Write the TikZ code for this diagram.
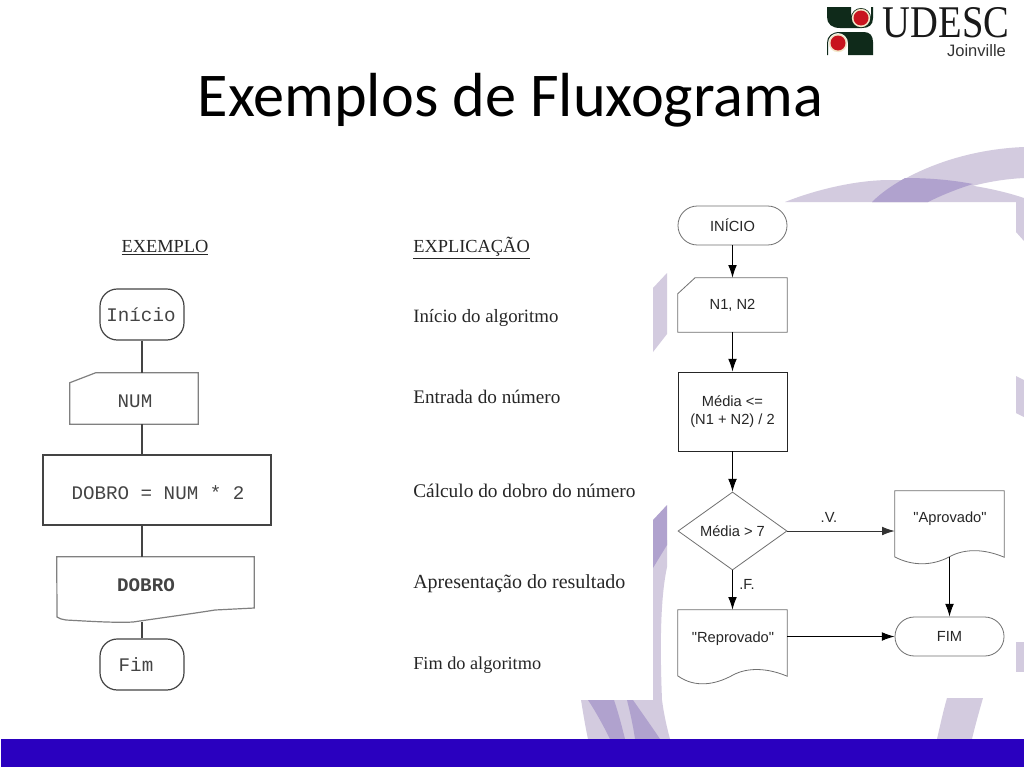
\documentclass[tikz,border=0pt]{standalone}
\usepackage{fontspec}
\setmainfont{Liberation Serif}
\newfontfamily\titlefont{Carlito}
\newfontfamily\monof{Liberation Mono}
\newfontfamily\sansf{Liberation Sans}
\usetikzlibrary{arrows.meta,shapes.geometric}
\definecolor{swlight}{HTML}{D3CBDF}
\definecolor{swdark}{HTML}{B0A2CE}
\definecolor{bandblue}{HTML}{2A00BF}
\definecolor{logogreen}{HTML}{0F2A1A}
\definecolor{logored}{HTML}{C8141E}
\definecolor{logocream}{HTML}{F2E6C8}
\definecolor{scan}{HTML}{444444}
\definecolor{thin}{HTML}{707070}
\tikzset{
  x=0.75pt,y=-0.75pt,
  shapebox/.style={rectangle,inner sep=0pt,minimum width=#1},
  scanbox/.style={shapebox=#1,draw=scan,line width=0.9pt},
  scanline/.style={draw=scan,line width=0.9pt},
  scanlight/.style={draw=gray,line width=0.9pt},
  monotext/.style={font=\monof\fontsize{14.4}{16}\selectfont,text=scan,inner sep=0pt},
  notetext/.style={font=\fontsize{#1}{16}\selectfont,text=black!85,anchor=west,inner sep=0pt},
  headtext/.style={font=\fontsize{13.8}{16}\selectfont,text=black!85,inner sep=0pt},
  sanstext/.style={font=\sansf\fontsize{11}{13.5}\selectfont,text=black!85,align=center,inner sep=0pt},
  thinshape/.style={draw=thin,line width=0.6pt},
  flowarrow/.style={draw=black,line width=0.7pt,-{Latex[length=9.5pt,width=6.5pt]}},
}
\begin{document}
\begin{tikzpicture}
\useasboundingbox (0,0) rectangle (1024,768);
\fill[white] (0,0) rectangle (1024,768);
% --- background swooshes
\fill[swlight] (785,202) .. controls (820,188) and (860,180) .. (890,180) .. controls (940,180) and (985,185) .. (1024,198) -- (1024,202) -- cycle;
\fill[swlight] (872,202) .. controls (895,180) and (950,150) .. (1024,147) -- (1024,178) .. controls (985,180) and (955,190) .. (928,202) -- cycle;
\fill[swdark] (872,202) .. controls (882,192) and (893,185) .. (905,178) .. controls (930,178) and (952,180) .. (973,184) .. controls (957,189) and (942,195) .. (928,202) -- cycle;
\fill[swlight] (1016,202) -- (1024,202) -- (1024,241) -- (1016,232) -- cycle;
\fill[swlight] (1016,376) -- (1024,380) -- (1024,417) -- (1016,413) -- cycle;
\fill[swlight] (1016,642) rectangle (1024,672);
\fill[swlight] (653,288) -- (667,273) -- (667,334) -- (653,352) -- cycle;
\fill[swlight] (653,560) -- (667,540) -- (667,567) .. controls (660,600) and (660,650) .. (662,700) .. controls (664,715) and (667,728) .. (670,739) -- (588,739) .. controls (585,725) and (583,712) .. (581,700) -- (653,700) -- cycle;
\fill[swdark] (653,520) -- (667,505) -- (667,545) -- (653,568) -- cycle;
\fill[swdark] (588,700) -- (614,700) .. controls (619,715) and (622,727) .. (625,739) -- (610,739) .. controls (603,725) and (596,712) .. (588,700) -- cycle;
\fill[swdark] (627,700) -- (633,700) .. controls (642,713) and (652,727) .. (660,739) -- (635,739) .. controls (633,725) and (630,712) .. (627,700) -- cycle;
\fill[swlight] (947,698) -- (983,698) .. controls (979,712) and (975,726) .. (972,739) -- (937,739) .. controls (940,726) and (943,712) .. (947,698) -- cycle;
\fill[bandblue] (1,739) rectangle (1024,767);
% --- title
\node[font=\titlefont\fontsize{46.7}{50}\selectfont,inner sep=0pt] (title) at (510.5,100.5) {Exemplos de Fluxograma};
% --- logo
\fill[logogreen] (827,7) -- (851,7) -- (851,18) arc[start angle=180,end angle=360,radius=10] -- (871,7) -- (873,7) -- (873,18) .. controls (873,25) and (869,28) .. (862,28) -- (840,28) .. controls (832,28) and (827,24) .. (827,17) -- cycle;
\fill[logogreen] (840,32) -- (864,32) .. controls (870,32) and (873,36) .. (873,42) -- (873,55) -- (848,55) -- (848,43) arc[start angle=360,end angle=180,radius=10] -- (828,55) -- (827,55) -- (827,43) .. controls (827,36) and (832,32) .. (840,32) -- cycle;
\fill[logocream] (861,18) circle[radius=9.2];
\fill[logocream] (838,43) circle[radius=9.2];
\fill[logored] (861,18) circle[radius=7.5];
\fill[logored] (838,43) circle[radius=7.5];
\node[font=\fontsize{34}{36}\selectfont,text=black!90,xscale=.85,inner sep=0pt] (udesc) at (946,22.5) {UDESC};
\node[font=\sansf\fontsize{12.4}{14}\selectfont,text=black!80,inner sep=0pt] (joinville) at (976.5,51) {Joinville};
% --- left flowchart
\node[headtext] (hExemplo) at (165,248) {\underline{EXEMPLO}};
\node[scanbox=63pt,minimum height=38.25pt,rounded corners=13pt] (lInicio) at (142,314.5) {};
\node[monotext] (tInicio) at (141,315) {Início};
\node[shapebox=96pt,minimum height=38.25pt] (lNum) at (134,398.5) {};
\draw[scanlight] ([yshift=-7.5pt]lNum.north west) -- ([xshift=19.5pt]lNum.north west) -- (lNum.north east) -- (lNum.south east) -- (lNum.south west) -- cycle;
\node[monotext] (tNum) at (135,401) {NUM};
\node[scanbox=171pt,minimum height=52.5pt] (lCalc) at (157,490) {};
\node[monotext] (tCalc) at (158,493) {DOBRO = NUM * 2};
\node[shapebox=147.75pt,minimum height=47.25pt] (lOut) at (155.5,588.5) {};
\draw[scanlight] (lOut.north west) -- (lOut.north east) -- ([yshift=1.5pt]lOut.east |- 0,610) -- (215,610) .. controls (190,614) and (160,618) .. (133,622) .. controls (115,623) and (85,621) .. (66,620) .. controls (62,619) and (59,619) .. (57,617) -- cycle;
\node[monotext,font=\monof\bfseries\fontsize{14.4}{16}\selectfont] (tOut) at (146,585) {DOBRO};
\node[scanbox=63pt,minimum height=38.25pt,rounded corners=13pt] (lFim) at (142,664.5) {};
\node[monotext] (tFim) at (136,665) {Fim};
\draw[scanline] (lInicio.south) -- (lInicio.south |- lNum.north);
\draw[scanline] (lInicio.south |- lNum.south) -- (lInicio.south |- lCalc.north);
\draw[scanline] (lInicio.south |- lCalc.south) -- (lInicio.south |- lOut.north);
\draw[scanline] (lInicio.south |- 0,622) -- (lFim.north);
% --- explanations
\node[headtext,anchor=west] (hExplica) at (413,248) {\underline{EXPLICAÇÃO}};
\node[notetext=14.1] (n1) at (413,318) {Início do algoritmo};
\node[notetext=14.4] (n2) at (413,397) {Entrada do número};
\node[notetext=14.5] (n3) at (413,491) {Cálculo do dobro do número};
\node[notetext=15] (n4) at (413,584) {Apresentação do resultado};
\node[notetext=13.7] (n5) at (413,665) {Fim do algoritmo};
% --- right flowchart
\node[thinshape,shapebox=81.75pt,minimum height=29.25pt,rounded corners=14.5pt,sanstext] (rIni) at (732.5,225.5) {INÍCIO};
\node[shapebox=81.75pt,minimum height=40.5pt,sanstext] (rLe) at (732.5,305) {N1, N2};
\draw[thinshape] ([yshift=-12pt]rLe.north west) -- ([xshift=13pt]rLe.north west) -- (rLe.north east) -- (rLe.south east) -- (rLe.south west) -- cycle;
\node[draw=black!85,line width=0.7pt,shapebox=81.75pt,minimum height=59.25pt,sanstext] (rCalc) at (732.5,411.5) {Média <=\\(N1 + N2) / 2};
\node[thinshape,diamond,shape aspect=1.4,minimum width=81.75pt,minimum height=58.5pt,sanstext] (rDec) at (732.5,531) {Média > 7};
\node[shapebox=81.75pt,minimum height=49.5pt] (rApr) at (949.5,524) {};
\draw[thinshape] (rApr.south west) -- (rApr.north west) -- (rApr.north east) -- (rApr.south east) .. controls (985,549) and (965,548) .. (949,557) .. controls (932,566) and (912,566) .. (895,557);
\node[sanstext] (tApr) at (950,519) {"Aprovado"};
\node[shapebox=81.75pt,minimum height=49.5pt] (rRep) at (732.5,643) {};
\draw[thinshape] (rRep.south west) -- (rRep.north west) -- (rRep.north east) -- (rRep.south east) .. controls (768,668) and (748,667) .. (733,675) .. controls (715,685) and (695,688) .. (678,676);
\node[sanstext] (tRep) at (733,639) {"Reprovado"};
\node[thinshape,shapebox=81.75pt,minimum height=29.25pt,rounded corners=14.5pt,sanstext] (rFim) at (949.5,636.5) {FIM};
\draw[flowarrow] (rIni.south) -- (rLe.north);
\draw[flowarrow] (rLe.south) -- (rCalc.north);
\draw[flowarrow] (rCalc.south) -- (rDec.north);
\draw[flowarrow,draw=black!80] (rDec.east) -- (rDec.east -| rApr.west);
\draw[flowarrow] (rDec.south) -- (rRep.north);
\draw[flowarrow] (rApr.south) -- (rFim.north);
\draw[flowarrow] (rFim.west -| rRep.east) -- (rFim.west);
\node[sanstext] (lV) at (829,517) {.V.};
\node[sanstext] (lF) at (747,584) {.F.};
\end{tikzpicture}
\end{document}
